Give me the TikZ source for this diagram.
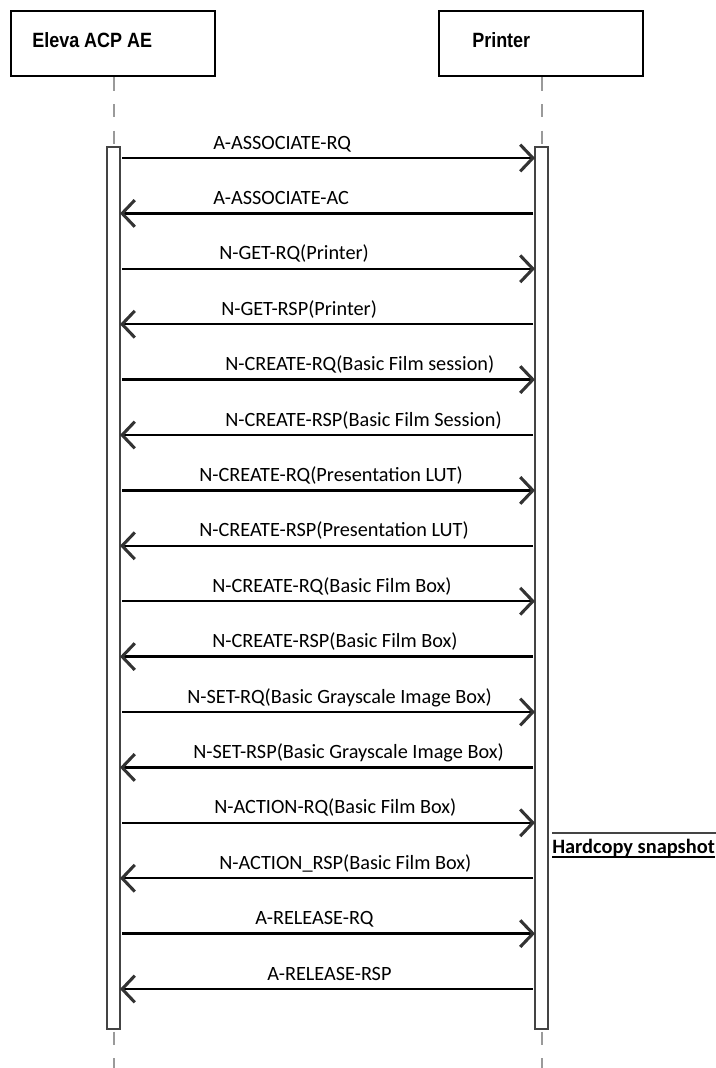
\documentclass[tikz,border=0pt]{standalone}
\usepackage{fontspec}
\setmainfont{Carlito}
\newfontfamily\headfont[FakeStretch=0.87]{Liberation Sans}
\usetikzlibrary{arrows.meta}
\definecolor{lifegray}{HTML}{9A9A9A}
\definecolor{tipgray}{HTML}{333333}
\definecolor{bargray}{HTML}{444444}
\tikzset{
  headbox/.style={draw=black, line width=1.9pt, fill=white, minimum width=153pt, minimum height=48.75pt, inner sep=0pt, outer sep=0pt},
  headtext/.style={anchor=base west, inner sep=0pt, font=\headfont\bfseries\fontsize{15.5pt}{18pt}\selectfont},
  actbar/.style={draw=bargray, line width=1.1pt, fill=white, minimum width=9.75pt, minimum height=661.5pt, inner sep=0pt, outer sep=0pt},
  lifeline/.style={draw=lifegray, line width=1.5pt, dash pattern=on 10pt off 10pt},
  msg/.style={draw=black, line width=1.7pt, -{Straight Barb[length=9.5pt,width=20pt,line width=2.3pt,color=tipgray]}},
  msglabel/.style={anchor=base west, inner sep=0pt, font=\fontsize{15.2pt}{17pt}\selectfont},
}
\begin{document}
\begin{tikzpicture}[x=0.75pt,y=-0.75pt]
\useasboundingbox (0,0) rectangle (716,1068);
% heads
\node[headbox] (ae) at (113,43.5) {};
\node[headbox] (pr) at (541,43.5) {};
\node[headtext] (aeLabel) at (32,47) {Eleva ACP AE};
\node[headtext] (prLabel) at (472,47) {Printer};
% activation bars
\node[actbar] (barA) at (113.5,588) {};
\node[actbar] (barP) at (541.5,588) {};
% lifelines
\coordinate (aeEnd) at (113.5,1068);
\coordinate (prEnd) at (541.5,1068);
\draw[lifeline] ([yshift=-1pt]ae.south -| barA.north) -- (barA.north);
\draw[lifeline] ([yshift=-1pt]pr.south -| barP.north) -- (barP.north);
\draw[lifeline] ([yshift=-2pt]barA.south) -- (aeEnd);
\draw[lifeline] ([yshift=-2pt]barP.south) -- (prEnd);
% messages
\foreach \i/\lx/\txt in {
  1/213/{A-ASSOCIATE-RQ},
  3/219/{N-GET-RQ(Printer)},
  5/225/{N-CREATE-RQ(Basic Film session)},
  7/199/{N-CREATE-RQ(Presentation LUT)},
  9/212/{N-CREATE-RQ(Basic Film Box)},
  11/187/{N-SET-RQ(Basic Grayscale Image Box)},
  13/214/{N-ACTION-RQ(Basic Film Box)},
  15/255/{A-RELEASE-RQ}}{
  \pgfmathsetmacro\yy{158+(\i-1)*55.4}
  \draw[msg, shorten <=1.5pt] (barA.east |- 0,\yy) -- (barP.west |- 0,\yy);
  \node[msglabel] (m\i) at (\lx,\yy-9) {\txt};
}
\foreach \i/\lx/\txt in {
  2/213/{A-ASSOCIATE-AC},
  4/221/{N-GET-RSP(Printer)},
  6/225/{N-CREATE-RSP(Basic Film Session)},
  8/199/{N-CREATE-RSP(Presentation LUT)},
  10/212/{N-CREATE-RSP(Basic Film Box)},
  12/193/{N-SET-RSP(Basic Grayscale Image Box)},
  14/219/{N-ACTION\_RSP(Basic Film Box)},
  16/267/{A-RELEASE-RSP}}{
  \pgfmathsetmacro\yy{158+(\i-1)*55.4}
  \draw[msg, shorten <=1.5pt] (barP.west |- 0,\yy) -- (barA.east |- 0,\yy);
  \node[msglabel] (m\i) at (\lx,\yy-9) {\txt};
}
% hardcopy snapshot note
\coordinate (hcL) at (552,833);
\coordinate (hcR) at (716,833);
\draw[draw=bargray, line width=1.1pt] (hcL) -- (hcR);
\node[anchor=base west, inner sep=0pt, font=\bfseries\fontsize{15.3pt}{18pt}\selectfont] (hc) at (552,853) {Hardcopy snapshot};
\draw[draw=black, line width=1pt] ([yshift=-3pt]hc.base west) -- ([yshift=-3pt]hc.base east);
\end{tikzpicture}
\end{document}
